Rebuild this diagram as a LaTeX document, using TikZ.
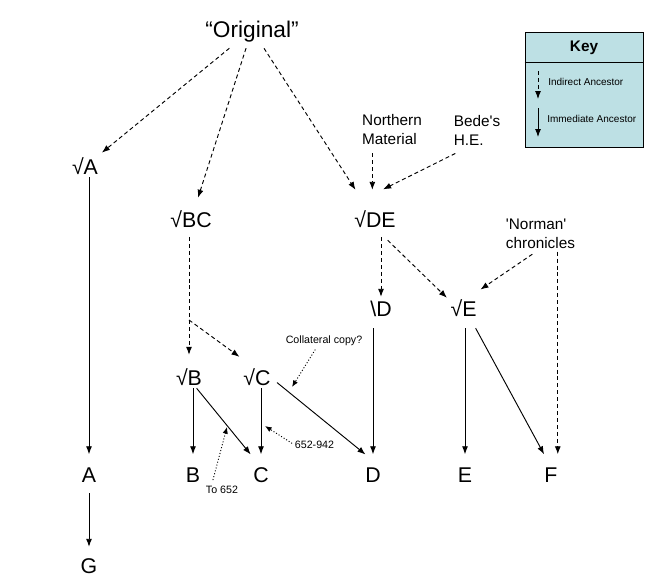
\documentclass[tikz,border=0pt]{standalone}
\usepackage{fontspec}
\setmainfont{Liberation Sans}
\usetikzlibrary{arrows.meta,calc}
\definecolor{keyfill}{RGB}{189,224,228}
\begin{document}
\begin{tikzpicture}[x=0.75pt, y=-0.75pt,
	big/.style={font=\fontsize{16}{19}\selectfont, inner sep=0pt, text height=11.5pt, text depth=0pt},
	mid/.style={font=\fontsize{11.5}{14.25}\selectfont, inner sep=0pt, align=left},
	small/.style={font=\fontsize{8}{10}\selectfont, inner sep=0pt},
	ind/.style={-{Latex[length=6pt,width=4.5pt]}, line width=0.7pt, dash pattern=on 3pt off 2.2pt},
	imm/.style={-{Latex[length=6pt,width=4.5pt]}, line width=0.7pt},
	note/.style={-{Latex[length=5pt,width=4pt]}, line width=0.7pt, dash pattern=on 0.75pt off 1.5pt}]
		\useasboundingbox (0,0) rectangle (659,587);
		\node[big, font=\fontsize{17}{20}\selectfont] (Orig) at (252,29.7) {“Original”};
		\node[big] (sA) at (85,166.5) {√A};
		\node[big] (sBC) at (191,219.5) {√BC};
		\node[big] (sDE) at (375,220) {√DE};
		\node[big] (bD) at (381,309) {\textbackslash D};
		\node[big] (sE) at (463.5,309) {√E};
		\node[big] (sB) at (189,377.5) {√B};
		\node[big] (sC) at (257,377.5) {√C};
		\foreach \n/\x/\y in {A/89/475, B/193/475, C/261/475, D/373/475, E/465/475, F/551/475, G/89/565.5}{
		  \node[big] (\n) at (\x,\y) {\n};
		}
		\node[mid] (NM) at (392,130) {Northern\\Material};
		\node[mid] (BH) at (477,130) {Bede\textquotesingle s\\H.E.};
		\node[mid] (NC) at (540.5,233.5) {\textquotesingle Norman\textquotesingle\\chronicles};
		\node[small] (CC) at (324,341) {Collateral copy?};
		\node[small] (L9) at (314.5,445) {652-942};
		\node[small] (T6) at (222,490) {To 652};
		\coordinate (fork) at (189,320);
		\coordinate (CCtip) at (292,387);
		\coordinate (L9tip) at (265,426);
		\coordinate (T6tip) at (227,427);
		\draw[ind, shorten <=12.5pt, shorten >=7pt] (Orig) -- (sA);
		\draw[ind, shorten <=8.3pt, shorten >=10.9pt] (Orig) -- (sBC);
		\draw[ind, shorten <=9.5pt, shorten >=19.9pt] (Orig) -- (sDE);
		\draw[ind, shorten <=6pt, shorten >=16.7pt] ([xshift=-2pt]NM.south -| sDE) -- ([xshift=-2pt]sDE.north);
		\draw[ind, shorten <=13.7pt, shorten >=38.3pt] ([xshift=-4pt]BH.south) -- ([xshift=-12.5pt]sDE.north west);
		\draw[ind, shorten <=7.1pt, shorten >=11.1pt] (sBC.south -| sB) -- (sB.north);
		\draw[ind, shorten >=16.3pt] (fork) -- (sC.north);
		\draw[ind, shorten <=7pt, shorten >=3.2pt] (sDE.south -| bD) -- (bD.north);
		\draw[ind, shorten <=13.2pt, shorten >=3.5pt] (sDE.south) -- (sE.north west);
		\draw[ind, shorten <=7.4pt, shorten >=15.4pt] (NC.south) -- (sE.north);
		\draw[ind, shorten <=2.3pt, shorten >=9.6pt] (NC.south -| F.north east) -- (F.north east);
		\draw[imm, shorten <=2pt, shorten >=9.6pt] (sA.south -| A) -- (A.north);
		\draw[imm, shorten <=7.7pt, shorten >=8.1pt] (A) -- (G);
		\draw[imm, shorten <=2pt, shorten >=9.6pt] (sB.south -| B) -- (B.north);
		\draw[imm, shorten <=2.7pt, shorten >=12.3pt] ([xshift=4pt]sB.south) -- (C.north);
		\draw[imm, shorten <=2pt, shorten >=9.6pt] (sC.south -| C) -- (C.north);
		\draw[imm, shorten <=6pt, shorten >=15pt] (sC.east) -- (D.north east);
		\draw[imm, shorten <=8.5pt, shorten >=9.6pt] (bD.south -| D) -- (D.north);
		\draw[imm, shorten <=8.5pt, shorten >=9.6pt] (sE.south -| E) -- (E.north);
		\draw[imm, shorten <=9.6pt, shorten >=10.9pt] ([xshift=4.5pt]sE.south) -- (F.north);
		\draw[note, shorten <=2.9pt] ([xshift=-5pt]CC.south) -- (CCtip);
		\draw[note, shorten <=2.3pt] (L9.west) -- (L9tip);
		\draw[note, shorten <=4.6pt] ([xshift=-8pt]T6.north) -- (T6tip);
		\node[draw, fill=keyfill, line width=0.7pt, minimum width=88.5pt, minimum height=86.25pt, inner sep=0pt] (key) at (584,89.5) {};
		\draw[line width=0.7pt] ($(key.north west)+(0,31)$) -- ($(key.north east)+(0,31)$);
		\node[font=\fontsize{11.5}{14}\selectfont\bfseries, inner sep=0pt] (keyT) at (584,48) {Key};
		\coordinate (k1) at (538,71);
		\coordinate (k2) at (538,99);
		\coordinate (k3) at (538,108);
		\coordinate (k4) at (538,137);
		\draw[ind] (k1) -- (k2);
		\draw[imm] (k3) -- (k4);
		\node[small, font=\fontsize{7.5}{9}\selectfont, anchor=west] (kInd) at (548,82) {Indirect Ancestor};
		\node[small, font=\fontsize{7.5}{9}\selectfont, anchor=west] (kImm) at (547,119) {Immediate Ancestor};
	\end{tikzpicture}
\end{document}
